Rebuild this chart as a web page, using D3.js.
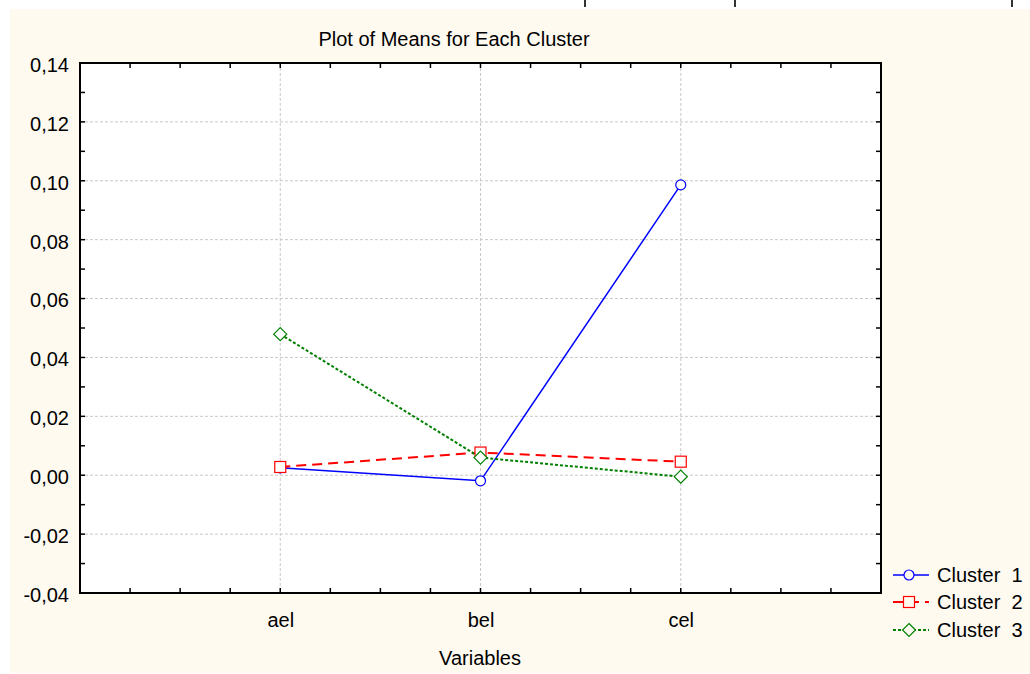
<!DOCTYPE html>
<html><head><meta charset="utf-8">
<script src="https://cdn.jsdelivr.net/npm/d3@7"></script>
<style>body{margin:0;background:#fff;} text{font-family:"Liberation Sans",Arial,sans-serif;fill:#000;}</style>
</head><body><svg id="c" width="1030" height="674"></svg>
<script>
const categories = ["ael", "bel", "cel"];
const cluster1 = [0.0025, -0.0019, 0.0986];
const cluster2 = [0.0028, 0.0077, 0.0046];
const cluster3 = [0.0479, 0.0060, -0.0005];
const seriesNames = ["Cluster  1", "Cluster  2", "Cluster  3"];
const yTicks = [-0.04, -0.02, 0, 0.02, 0.04, 0.06, 0.08, 0.10, 0.12, 0.14];
const title = "Plot of Means for Each Cluster";
const xTitle = "Variables";

const FS = 20;
const svg = d3.select("#c");
svg.append("rect").attr("x",10).attr("y",9).attr("width",1020).attr("height",664).attr("fill","#fffaf0");
// cropped tick marks from above
[585,735,1012].forEach(x=>svg.append("line").attr("x1",x).attr("x2",x).attr("y1",0).attr("y2",7).attr("stroke","#333").attr("stroke-width",2));

const L=80,R=881,T=63,B=593;
const x = d3.scaleLinear().domain([0,4]).range([L,R]);
const y = d3.scaleLinear().domain([-0.04,0.14]).range([B,T]);
svg.append("rect").attr("x",L).attr("y",T).attr("width",R-L).attr("height",B-T).attr("fill","#fff");

const fmt = d=>d3.format(".2f")(d).replace(".",",").replace("−","-");
// grid
const g = svg.append("g");
yTicks.forEach(v=>{ if(v>-0.04 && v<0.14) g.append("line").attr("x1",L).attr("x2",R).attr("y1",y(v)).attr("y2",y(v)).attr("stroke","#c8c8c8").attr("stroke-dasharray","3,2"); });
categories.forEach((c,i)=>g.append("line").attr("x1",x(i+1)).attr("x2",x(i+1)).attr("y1",T).attr("y2",B).attr("stroke","#c8c8c8").attr("stroke-dasharray","3,2"));

// axes with inward ticks
const minorY = d3.range(-0.04,0.1401,0.01);
const minorX = d3.range(0,4.001,0.25);
svg.append("g").attr("transform",`translate(${L},0)`).call(d3.axisLeft(y).tickValues(yTicks).tickFormat(fmt).tickSize(0).tickPadding(11))
  .call(a=>{a.select(".domain").remove(); a.selectAll("text").attr("font-size",FS).attr("dy","0.42em").attr("font-family","Liberation Sans,Arial");});
const ax = svg.append("g").attr("transform",`translate(0,${B})`).call(d3.axisBottom(x).tickValues([1,2,3]).tickFormat(i=>categories[i-1]).tickSize(0).tickPadding(20));
ax.select(".domain").remove(); ax.selectAll("text").attr("font-size",FS).attr("font-family","Liberation Sans,Arial");

const tk = svg.append("g").attr("stroke","#000").attr("stroke-width",1.5);
minorY.forEach(v=>{ tk.append("line").attr("x1",L).attr("x2",L+5).attr("y1",y(v)).attr("y2",y(v));
  tk.append("line").attr("x1",R-5).attr("x2",R).attr("y1",y(v)).attr("y2",y(v)); });
minorX.forEach(v=>{ tk.append("line").attr("x1",x(v)).attr("x2",x(v)).attr("y1",B).attr("y2",B-5);
  tk.append("line").attr("x1",x(v)).attr("x2",x(v)).attr("y1",T).attr("y2",T+5); });
svg.append("rect").attr("x",L).attr("y",T).attr("width",R-L).attr("height",B-T).attr("fill","none").attr("stroke","#000").attr("stroke-width",2);

const series = [
  {vals:cluster1,color:"#0000ff",dash:null,w:1.5,shape:"circle"},
  {vals:cluster2,color:"#ff0000",dash:"10,6",w:2,shape:"square"},
  {vals:cluster3,color:"#008000",dash:"3,2",w:2,shape:"diamond"}
];
const marker = (sel,shape,cx,cy,color,fill)=>{
  if(shape==="circle") sel.append("circle").attr("cx",cx).attr("cy",cy).attr("r",5).attr("fill",fill).attr("stroke",color).attr("stroke-width",1.2);
  else if(shape==="square") sel.append("rect").attr("x",cx-5.5).attr("y",cy-5.5).attr("width",11).attr("height",11).attr("fill",fill).attr("stroke",color).attr("stroke-width",1.2);
  else sel.append("path").attr("d",`M${cx},${cy-6.5}L${cx+6.5},${cy}L${cx},${cy+6.5}L${cx-6.5},${cy}Z`).attr("fill",fill).attr("stroke",color).attr("stroke-width",1.2);
};
const line = d3.line().x((d,i)=>x(i+1)).y(d=>y(d));
series.forEach(s=>{
  svg.append("path").datum(s.vals).attr("d",line).attr("fill","none").attr("stroke",s.color).attr("stroke-width",s.w).attr("stroke-dasharray",s.dash);
});
series.forEach(s=>{ s.vals.forEach((v,i)=>marker(svg,s.shape,x(i+1),y(v),s.color,"#fff")); });

// title
svg.append("text").attr("x",454).attr("y",46).attr("text-anchor","middle").attr("font-size",FS).text(title);
svg.append("text").attr("x",480).attr("y",665).attr("text-anchor","middle").attr("font-size",FS).text(xTitle);

// legend
const ly=[575,602,630];
series.forEach((s,i)=>{
  svg.append("line").attr("x1",893).attr("x2",929).attr("y1",ly[i]).attr("y2",ly[i]).attr("stroke",s.color).attr("stroke-width",s.w).attr("stroke-dasharray",s.dash);
  marker(svg,s.shape,909,ly[i],s.color,"#fffaf0");
  svg.append("text").attr("x",937).attr("y",ly[i]+7).attr("font-size",FS).attr("xml:space","preserve").style("white-space","pre").text(seriesNames[i]);
});
</script></body></html>
